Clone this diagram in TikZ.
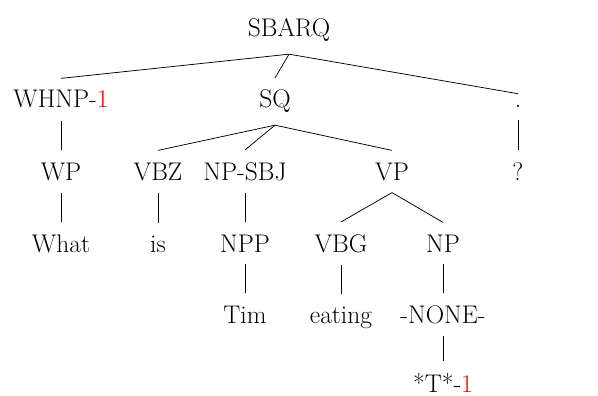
\documentclass[tikz,border=0pt]{standalone}
\usepackage{xcolor}
\begin{document}
\begin{tikzpicture}[x=1pt,y=-1pt,
  tn/.style={anchor=base,inner xsep=0pt,inner ysep=12pt,font=\fontsize{25.5}{30}\selectfont},
  br/.style={line width=0.75pt}]
\useasboundingbox (0,0) rectangle (598,396);
% row 1
\node[tn] (sbarq) at (289,37) {SBARQ};
% row 2
\node[tn] (whnp) at (61,108) {WHNP-\textcolor{red}{1}};
\node[tn] (sq) at (275,108) {SQ};
\node[tn] (pu) at (518,108) {.};
% row 3
\node[tn] (wp) at (61,180) {WP};
\node[tn] (vbz) at (158,180) {VBZ};
\node[tn] (npsbj) at (245,180) {NP-SBJ};
\node[tn] (vp) at (392,180) {VP};
\node[tn] (qm) at (518,180) {?};
% row 4
\node[tn] (what) at (61,252) {What};
\node[tn] (is) at (158,252) {is};
\node[tn] (npp) at (245,252) {NPP};
\node[tn] (vbg) at (341,252) {VBG};
\node[tn] (np) at (443,252) {NP};
% row 5
\node[tn] (tim) at (245,323) {Tim};
\node[tn] (eating) at (341,323) {eating};
\node[tn] (none) at (443,323) {-NONE-};
% row 6
\node[tn] (trace) at (443,392.5) {*T*-\textcolor{red}{1}};
% branches
\foreach \p/\c in {sbarq/whnp, sbarq/sq, sbarq/pu,
                   whnp/wp, sq/vbz, sq/npsbj, sq/vp, pu/qm,
                   wp/what, vbz/is, npsbj/npp, vp/vbg, vp/np,
                   npp/tim, vbg/eating, np/none, none/trace}
  \draw[br] (\p.south) -- (\c.north);
\end{tikzpicture}
\end{document}
